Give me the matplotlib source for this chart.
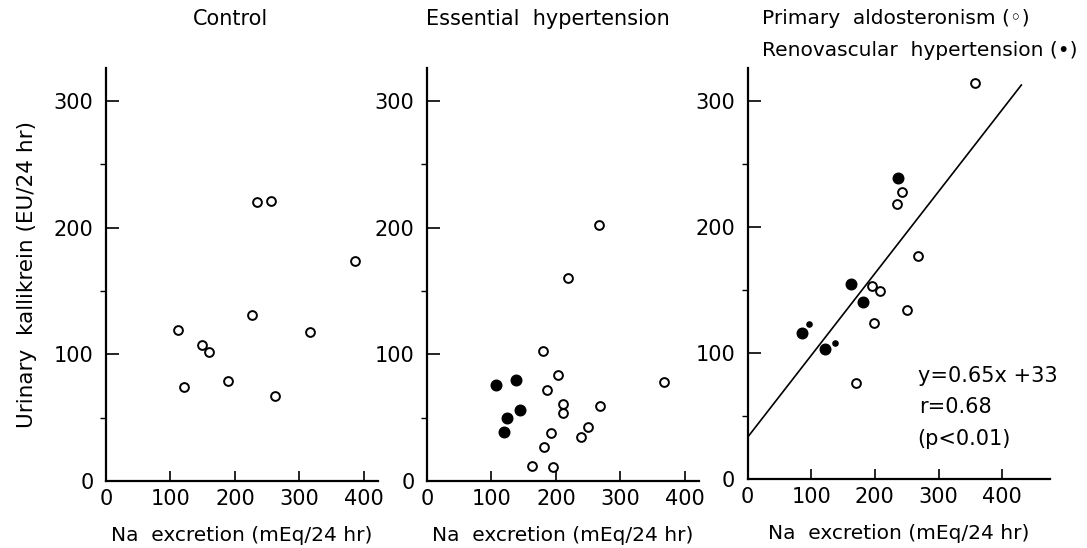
import matplotlib
matplotlib.use("Agg")
import matplotlib.pyplot as plt
import numpy as np

# Control
ctrl_na = [112, 121, 149, 160, 190, 227, 234, 256, 262, 316, 386]
ctrl_kal = [119, 74, 107, 102, 79, 131, 220, 221, 67, 118, 174]

# Essential hypertension (open and filled groups)
eh_na_open = [180, 203, 186, 211, 211, 267, 218, 268, 367, 193, 181, 163, 195, 239, 250]
eh_kal_open = [103, 84, 72, 61, 54, 202, 160, 59, 78, 38, 27, 12, 11, 35, 43]
eh_na_fill = [107, 138, 124, 144, 119]
eh_kal_fill = [76, 80, 50, 56, 39]

# Primary aldosteronism (open) / renovascular hypertension (filled)
pa_na = [358, 243, 234, 268, 195, 208, 251, 198, 171]
pa_kal = [314, 228, 218, 177, 153, 149, 134, 124, 76]
rv_na = [237, 163, 181, 85, 121]
rv_kal = [239, 155, 140, 116, 103]
rv_small_na = [96, 138]
rv_small_kal = [123, 108]

slope, intercept = 0.65, 33

plt.rcParams['font.family'] = ['DejaVu Sans']

fig = plt.figure(figsize=(10.87, 5.48), dpi=100)
W, H = 1087, 548

def make_ax(x0, x1, y0, y1, xmax):
    ax = fig.add_axes([x0 / W, 1 - y0 / H, (x1 - x0) / W, (y0 - y1) / H])
    ax.set_xlim(0, xmax)
    ax.set_ylim(0, 326)
    for s in ['top', 'right']:
        ax.spines[s].set_visible(False)
    for s in ['left', 'bottom']:
        ax.spines[s].set_linewidth(1.6)
    ax.set_xticks([0, 100, 200, 300, 400])
    ax.set_yticks([0, 100, 200, 300])
    ax.set_yticks([50, 150, 250], minor=True)
    ax.tick_params(direction='in', labelsize=15, width=1.2)
    ax.tick_params(axis='x', length=7, pad=6)
    ax.tick_params(axis='y', which='major', length=9, pad=9)
    ax.tick_params(axis='y', which='minor', length=4, width=1.0)
    ax.set_xlabel('Na  excretion (mEq/24 hr)', fontsize=14.5, labelpad=12)
    return ax

ax1 = make_ax(106, 378, 481, 68, 422)
ax2 = make_ax(427, 699, 481, 68, 422)
ax3 = make_ax(747.5, 1050, 479, 68, 475)

open_kw = dict(s=40, facecolors='white', edgecolors='black', linewidths=1.4, zorder=3)
fill_kw = dict(s=58, color='black', zorder=3)

ax1.scatter(ctrl_na, ctrl_kal, **open_kw)
ax1.set_ylabel('Urinary  kallikrein (EU/24 hr)', fontsize=15.5, labelpad=12)

ax2.scatter(eh_na_open, eh_kal_open, **open_kw)
ax2.scatter(eh_na_fill, eh_kal_fill, **fill_kw)

xs = np.array([0, 430])
ax3.plot(xs, slope * xs + intercept, color='black', lw=1.2, zorder=2)
ax3.scatter(pa_na, pa_kal, **open_kw)
ax3.scatter(rv_na, rv_kal, **fill_kw)
ax3.scatter(rv_small_na, rv_small_kal, s=14, color='black', zorder=3)
ax3.text(267, 82, 'y=0.65x +33', va='center', fontsize=15)
ax3.text(270, 57, 'r=0.68', va='center', fontsize=15)
ax3.text(267, 32, '(p<0.01)', va='center', fontsize=15)

fig.text(230 / W, 1 - 19 / H, 'Control', ha='center', va='center', fontsize=15)
fig.text(548 / W, 1 - 19 / H, 'Essential  hypertension', ha='center', va='center', fontsize=15)
fig.text(762 / W, 1 - 19 / H, 'Primary  aldosteronism (◦)', ha='left', va='center', fontsize=14.5)
fig.text(762 / W, 1 - 51 / H, 'Renovascular  hypertension (•)', ha='left', va='center', fontsize=14.5)

fig.savefig('out.png', dpi=100)
